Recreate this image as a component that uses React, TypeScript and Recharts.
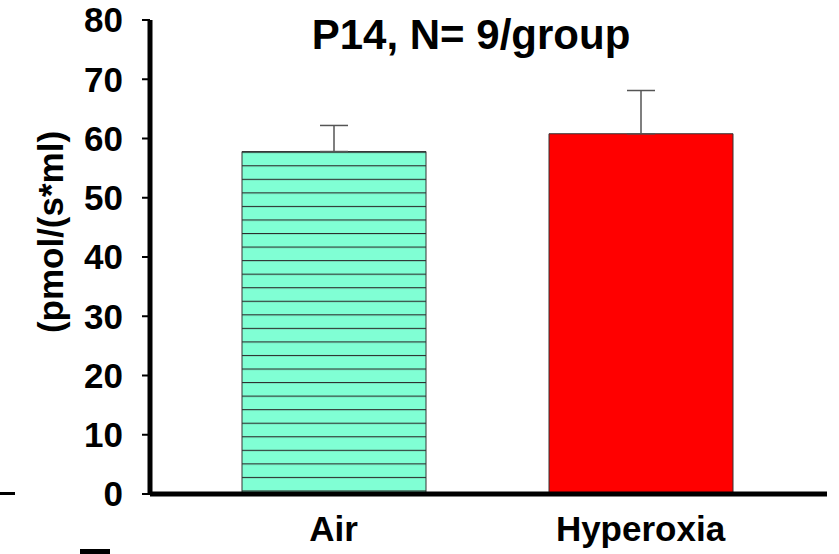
import { BarChart, Bar, XAxis, YAxis, ErrorBar, Cell } from 'recharts';

const groups = ['Air', 'Hyperoxia'];
const means = [57.8, 60.8];
const sdUp = [4.4, 7.3];
const fills = ['url(#airStripes)', '#ff0000'];
const yTicks = [0, 10, 20, 30, 40, 50, 60, 70, 80];

const data = groups.map((g, i) => ({ name: g, value: means[i], err: [0, sdUp[i]] }));

const font = '"Liberation Sans", Arial, sans-serif';

export default function App() {
  return (
    <div style={{ position: 'absolute', left: 0, top: 0, width: 839, height: 554, background: '#fff', fontFamily: font }}>
      <BarChart width={839} height={554} data={data} margin={{ top: 20, right: 12, bottom: 0, left: 0 }}>
        <defs>
          <pattern id="airStripes" patternUnits="userSpaceOnUse" x={0} y={151.7} width={20} height={13.55}>
            <rect x={0} y={0} width={20} height={13.55} fill="#80ffd4" />
            <line x1={0} y1={0.5} x2={20} y2={0.5} stroke="#2a2a2a" strokeWidth={1.2} />
          </pattern>
        </defs>
        <XAxis
          dataKey="name"
          height={60}
          padding={{ left: 30, right: 33 }}
          axisLine={{ stroke: '#000', strokeWidth: 5 }}
          tickLine={false}
          tickSize={0}
          tickMargin={22}
          tick={{ fill: '#000', stroke: 'none', fontSize: 35, fontWeight: 700, fontFamily: font }}
        />
        <YAxis
          width={150}
          domain={[0, 80]}
          ticks={yTicks}
          interval={0}
          axisLine={{ stroke: '#000', strokeWidth: 5 }}
          tickLine={{ stroke: '#000', strokeWidth: 2 }}
          tickSize={8}
          tickMargin={19}
          tick={{ fill: '#000', stroke: 'none', fontSize: 35, fontWeight: 700, fontFamily: font }}
          label={{
            content: () => (
              <text
                x={50}
                y={232}
                transform="rotate(-90, 50, 232)"
                textAnchor="middle"
                dominantBaseline="central"
                fontSize={35}
                fontWeight={700}
                fontFamily={font}
                fill="#000"
              >
                (pmol/(s*ml)
              </text>
            ),
          }}
        />
        <Bar dataKey="value" barSize={184} stroke="#333" strokeWidth={1} isAnimationActive={false}>
          {data.map((d, i) => (
            <Cell key={d.name} fill={fills[i]} />
          ))}
          <ErrorBar dataKey="err" direction="y" width={14} stroke="#555" strokeWidth={1.5} isAnimationActive={false} />
        </Bar>
      </BarChart>
      <div
        style={{
          position: 'absolute',
          left: 0,
          width: 942,
          top: 14,
          textAlign: 'center',
          fontSize: 42,
          fontWeight: 700,
          lineHeight: '42px',
          color: '#000',
        }}
      >
        P14, N= 9/group
      </div>
      <div style={{ position: 'absolute', left: 0, top: 492, width: 15, height: 3, background: '#000' }} />
      <div style={{ position: 'absolute', left: 80, top: 549, width: 30, height: 5, background: '#000' }} />
    </div>
  );
}
